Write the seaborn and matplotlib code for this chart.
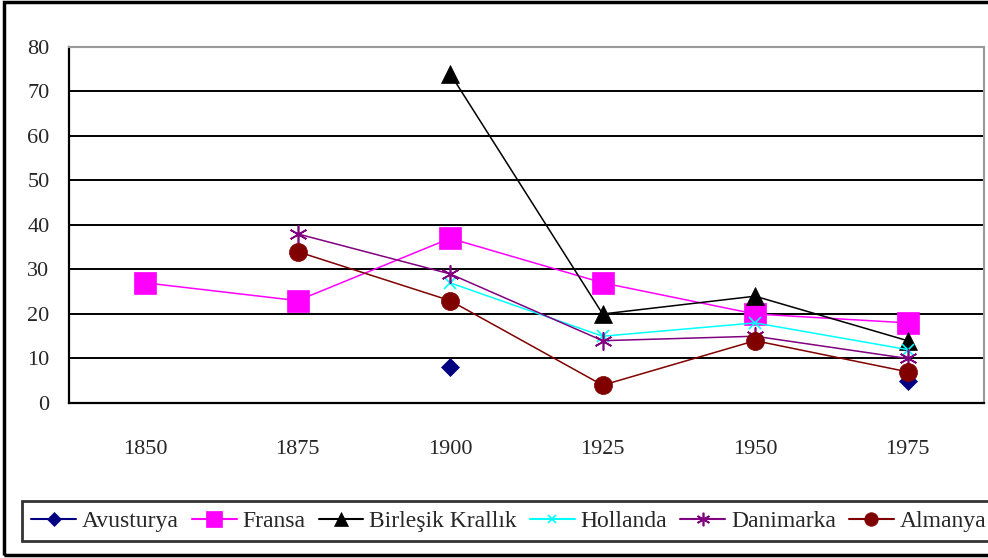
import numpy as np
import pandas as pd
import seaborn as sns
import matplotlib.pyplot as plt
from matplotlib.lines import Line2D
from matplotlib.patches import Rectangle

years = ["1850", "1875", "1900", "1925", "1950", "1975"]
avusturya = [np.nan, np.nan, 8, np.nan, np.nan, 5]
fransa = [27, 23, 37, 27, 20, 18]
birlesik = [np.nan, np.nan, 74, 20, 24, 14]
hollanda = [np.nan, np.nan, 27, 15, 18, 12]
danimarka = [np.nan, 38, 29, 14, 15, 10]
almanya = [np.nan, 34, 23, 4, 14, 7]

series = {
    "Avusturya": avusturya,
    "Fransa": fransa,
    "Birleşik Krallık": birlesik,
    "Hollanda": hollanda,
    "Danimarka": danimarka,
    "Almanya": almanya,
}
styles = {
    "Avusturya": dict(color="#000080", marker="D", ms=9),
    "Fransa": dict(color="#FF00FF", marker="s", ms=16),
    "Birleşik Krallık": dict(color="#000000", marker="^", ms=13),
    "Hollanda": dict(color="#00FFFF", marker="x", ms=8),
    "Danimarka": dict(color="#800080", marker=(6, 2, 0), ms=13),
    "Almanya": dict(color="#800000", marker="o", ms=13),
}

sns.set_style("white")
plt.rcParams["font.family"] = ["Liberation Serif", "DejaVu Serif"]

fig = plt.figure(figsize=(9.88, 5.58), dpi=100)
ax = fig.add_axes([0.0698, 0.2778, 0.926, 0.638])

handles = []
for name, vals in series.items():
    df = pd.DataFrame({"x": np.arange(len(years)), "y": vals})
    # split into runs so that gaps stay gaps
    df["seg"] = df["y"].isna().cumsum()
    df = df.dropna()
    st = styles[name]
    mec = st["color"]
    mew = 1.2 if name in ("Hollanda", "Danimarka") else 0.5
    sns.lineplot(data=df, x="x", y="y", units="seg", estimator=None, ax=ax,
                 color=st["color"], lw=1.1, marker=st["marker"], markersize=st["ms"],
                 markeredgecolor=mec, markeredgewidth=mew, legend=False)
    handles.append(Line2D([], [], color=st["color"], lw=1.5, marker=st["marker"],
                          markersize=st["ms"] * 0.75, markeredgecolor=mec,
                          markeredgewidth=mew, label=name))

ax.set_xlim(-0.5, 5.5)
ax.set_ylim(0, 80)
ax.set_yticks(range(0, 81, 10))
ax.set_xticks(range(len(years)))
ax.set_xticklabels(years)
ax.set_xticks(np.arange(-0.5, 5.6, 1), minor=True)
ax.set_xlabel("")
ax.set_ylabel("")
ax.yaxis.grid(True, color="black", lw=1.4)
ax.xaxis.grid(False)
ax.set_axisbelow(True)
ax.tick_params(axis="x", which="major", length=0, pad=27, labelsize=16)
ax.tick_params(axis="x", which="minor", length=8, width=1.5, color="black", direction="out")
ax.tick_params(axis="y", length=6, width=1.5, color="black", direction="out", labelsize=16, pad=8)
for s in ("left", "bottom"):
    ax.spines[s].set_color("black")
    ax.spines[s].set_linewidth(1.6)
for s in ("top", "right"):
    ax.spines[s].set_color("#999999")
    ax.spines[s].set_linewidth(1.5)

fig.add_artist(Rectangle((0.004, 0.006), 1.2, 0.99, transform=fig.transFigure,
                         fill=False, ec="black", lw=2.5))

leg = fig.legend(handles=handles, loc="center left", bbox_to_anchor=(0.01, 0.066),
                 ncol=6, fontsize=17, frameon=True, fancybox=False, handlelength=1.9,
                 handletextpad=0.25, columnspacing=0.55, borderpad=0.4)
leg.get_frame().set_edgecolor("black")
leg.get_frame().set_linewidth(2)

fig.savefig("out.png", dpi=100)
